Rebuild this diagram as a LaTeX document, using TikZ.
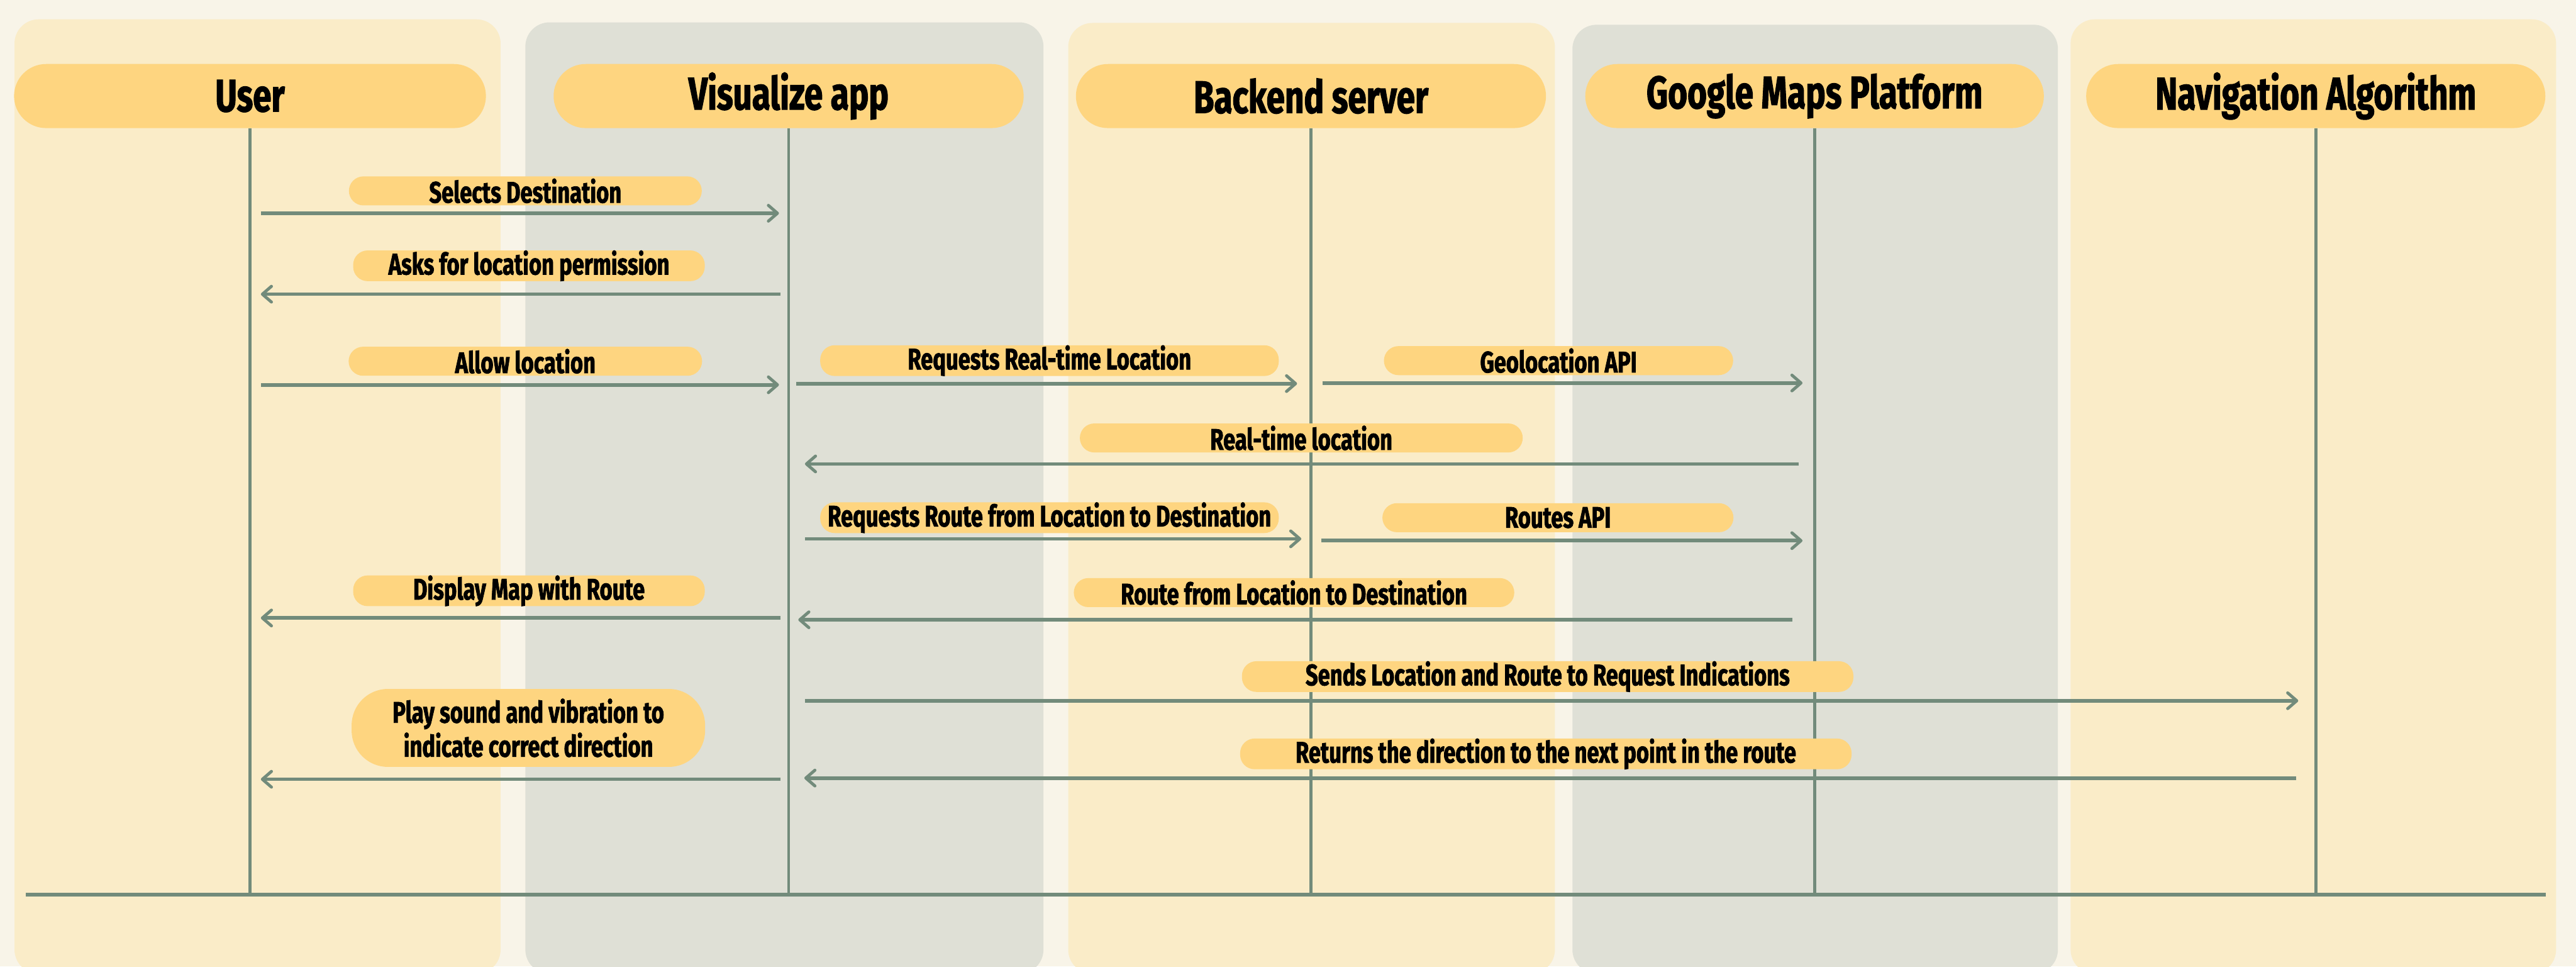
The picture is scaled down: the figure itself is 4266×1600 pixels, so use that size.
\documentclass[tikz,border=0pt]{standalone}
\usepackage{fontspec}
\setmainfont{Fira Sans}[FakeStretch=0.73, BoldFeatures={FakeBold=1.6}]
\usetikzlibrary{arrows.meta}
\definecolor{bgc}{HTML}{F8F4E8}
\definecolor{laneY}{HTML}{FAECC8}
\definecolor{laneG}{HTML}{DFE0D6}
\definecolor{pillc}{HTML}{FED580}
\definecolor{linec}{HTML}{728B7B}
\begin{document}
\begin{tikzpicture}[x=0.01cm,y=-0.01cm,
  header/.style={fill=pillc, rounded corners=0.53cm, minimum height=1.06cm, inner sep=0pt,
    font=\fontsize{21.5}{25}\selectfont\bfseries},
  lbl/.style={fill=pillc, rounded corners=0.24cm, minimum height=0.48cm, inner sep=0pt,
    font=\fontsize{14}{17}\selectfont\bfseries},
  life/.style={draw=linec, line width=0.05cm},
  msg/.style={draw=linec, line width=0.06cm,
    -{Straight Barb[length=0.15cm,width=0.26cm,line width=0.05cm,round]}},
  baseln/.style={draw=linec, line width=0.06cm}
]
\useasboundingbox (0,0) rectangle (4266,1600);
\fill[bgc] (0,0) rectangle (4266,1600);
\begin{scope}
\clip (0,0) rectangle (4266,1600);
% lanes
\fill[laneY, rounded corners=0.4cm] (24,32) rectangle (829,1612);
\fill[laneG, rounded corners=0.4cm] (870,37) rectangle (1728,1612);
\fill[laneY, rounded corners=0.4cm] (1769,38) rectangle (2575,1612);
\fill[laneG, rounded corners=0.4cm] (2604,41) rectangle (3408,1612);
\fill[laneY, rounded corners=0.4cm] (3429,32) rectangle (4233,1612);
\end{scope}

% headers
\node[header, minimum width=7.81cm] (hUser) at (414,159) {User};
\node[header, minimum width=7.78cm] (hApp) at (1306,159) {Visualize app};
\node[header, minimum width=7.78cm] (hBack) at (2171,159) {Backend server};
\node[header, minimum width=7.59cm] (hMaps) at (3005,159) {Google Maps Platform};
\node[header, minimum width=7.60cm] (hNav) at (3835,159) {Navigation Algorithm};

% lifelines
\coordinate (bUser) at (414,1481);
\coordinate (bApp) at (1306,1481);
\coordinate (bBack) at (2171,1481);
\coordinate (bMaps) at (3005,1481);
\coordinate (bNav) at (3835,1481);
\draw[life] (hUser.south) -- (bUser);
\draw[life] (hApp.south) -- (bApp);
\draw[life] (hBack.south) -- (bBack);
\draw[life] (hMaps.south) -- (bMaps);
\draw[life] (hNav.south) -- (bNav);

% base line
\coordinate (baseL) at (43,1481);
\coordinate (baseR) at (4216,1481);
\draw[baseln] (baseL) -- (baseR);

% message labels
\node[lbl, minimum width=5.84cm] (l1) at (870,316) {Selects Destination};
\node[lbl, minimum width=5.82cm] (l2) at (876,440) {Asks for location permission};
\node[lbl, minimum width=5.85cm] (l3) at (870,598) {Allow location};
\node[lbl, minimum width=7.59cm] (l4) at (1738,597) {Requests Real-time Location};
\node[lbl, minimum width=5.78cm] (l5) at (2581,597) {Geolocation API};
\node[lbl, minimum width=7.33cm] (l6) at (2155,725) {Real-time location};
\node[lbl, minimum width=7.59cm] (l7) at (1738,857) {Requests Route from Location to Destination};
\node[lbl, minimum width=5.81cm] (l8) at (2580,857) {Routes API};
\node[lbl, minimum width=5.82cm] (l9) at (876,978) {Display Map with Route};
\node[lbl, minimum width=7.29cm] (l10) at (2143,981) {Route from Location to Destination};
\node[lbl, minimum width=10.12cm] (l11) at (2563,1120) {Sends Location and Route to Request Indications};
\node[lbl, minimum width=5.85cm, minimum height=1.29cm, rounded corners=0.6cm, align=center,
  font=\fontsize{14}{16}\selectfont\bfseries] (l12) at (875,1205)
  {Play sound and vibration to\\indicate correct direction};
\node[lbl, minimum width=10.12cm] (l13) at (2560,1248) {Returns the direction to the next point in the route};

% message arrows
\coordinate (m1s) at (432,353);  \coordinate (m1e) at (1290,353);
\coordinate (m2s) at (1292,487); \coordinate (m2e) at (432,487);
\coordinate (m3s) at (432,637);  \coordinate (m3e) at (1290,637);
\coordinate (m4s) at (1319,635); \coordinate (m4e) at (2148,635);
\coordinate (m5s) at (2190,634); \coordinate (m5e) at (2985,634);
\coordinate (m6s) at (2979,768); \coordinate (m6e) at (1333,768);
\coordinate (m7s) at (1333,892); \coordinate (m7e) at (2155,892);
\coordinate (m8s) at (2188,895); \coordinate (m8e) at (2985,895);
\coordinate (m9s) at (1292,1023); \coordinate (m9e) at (432,1023);
\coordinate (m10s) at (2968,1026); \coordinate (m10e) at (1322,1026);
\coordinate (m11s) at (1333,1160); \coordinate (m11e) at (3806,1160);
\coordinate (m12s) at (1293,1290); \coordinate (m12e) at (432,1290);
\coordinate (m13s) at (3803,1288); \coordinate (m13e) at (1332,1288);
\draw[msg] (m1s) -- (m1e);
\draw[msg] (m2s) -- (m2e);
\draw[msg] (m3s) -- (m3e);
\draw[msg] (m4s) -- (m4e);
\draw[msg] (m5s) -- (m5e);
\draw[msg] (m6s) -- (m6e);
\draw[msg] (m7s) -- (m7e);
\draw[msg] (m8s) -- (m8e);
\draw[msg] (m9s) -- (m9e);
\draw[msg] (m10s) -- (m10e);
\draw[msg] (m11s) -- (m11e);
\draw[msg] (m12s) -- (m12e);
\draw[msg] (m13s) -- (m13e);
\end{tikzpicture}
\end{document}
